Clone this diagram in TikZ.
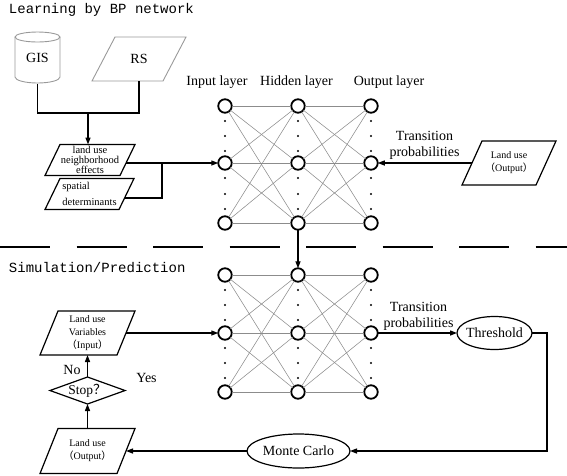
\documentclass[tikz,border=0pt]{standalone}
\usepackage{fontspec}
\setmainfont{Liberation Serif}
\setmonofont{Liberation Mono}
\newfontfamily\cjk{Noto Sans CJK SC}
\usetikzlibrary{shapes.geometric,arrows.meta}
\newcommand\drawpara[3]{\draw[#3] ([xshift=#2pt]#1.north west) -- ([xshift=#2pt]#1.north east) -- ([xshift=-#2pt]#1.south east) -- ([xshift=-#2pt]#1.south west) -- cycle;}
\begin{document}
\begin{tikzpicture}[x=1pt,y=-1pt,
  every node/.style={inner sep=0pt, outer sep=0pt},
  line/.style={line width=1.3pt, black},
  arr/.style={line, -{Triangle[length=7pt,width=5pt]}},
  neuron/.style={circle, draw, line width=1.8pt, minimum size=13.5pt},
  wire/.style={draw=black!45, line width=0.55pt},
  big/.style={font=\fontsize{14}{16}\selectfont},
  small/.style={font=\fontsize{10}{13}\selectfont, align=center},
  mono/.style={font=\ttfamily\fontsize{14}{16}\selectfont},
  boxline/.style={line width=1.2pt, black},
  grayline/.style={line width=0.9pt, draw=black!40},
  oval/.style={ellipse, draw, line width=1.2pt, big},
]
\useasboundingbox (0,0) rectangle (567,475);

% titles
\node[mono, anchor=base west] (t1) at (9,13.5) {Learning by BP network};
\node[mono, anchor=base west] (t2) at (9,272) {Simulation/Prediction};

% separator
\draw[line width=1.2pt, dash pattern=on 50pt off 26.5pt] (0,247) -- (567,247);

% GIS cylinder
\node[big, minimum width=45pt, minimum height=52pt] (gis) at (37.5,57.5) {GIS};
\draw[grayline] (15,37) -- (15,77) arc[start angle=180, end angle=0, x radius=22.5, y radius=6] -- (60,37);
\draw[grayline] (37.5,37) ellipse[x radius=22.5, y radius=5];

% RS
\node[big, minimum width=71pt, minimum height=44pt] (rs) at (139,59) {RS};
\drawpara{rs}{11.5}{grayline}

% input data boxes
\node[font=\fontsize{10.5}{9.5}\selectfont, align=center, minimum width=75pt, minimum height=31pt] (nb) at (90,160) {land use\\neighborhood\\effects};
\drawpara{nb}{7.5}{boxline}
\node[font=\fontsize{10.5}{16}\selectfont, align=left, minimum width=74pt, minimum height=31pt] (sp) at (89.5,194) {spatial\\determinants};
\drawpara{sp}{7.5}{boxline}

% upper land use output
\node[small, minimum width=74pt, minimum height=44pt] (lo) at (509,163) {Land use\\{\cjk （}Output{\cjk ）}};
\drawpara{lo}{10}{boxline}

% layer labels
\node[big] (lin) at (217,82.5) {Input layer};
\node[big] (lhid) at (296.5,82.5) {Hidden layer};
\node[big] (lout) at (389,82.5) {Output layer};

% networks
\foreach \c/\x in {i/225,h/298,o/371}
  \foreach \r/\y in {1/106,2/163,3/223}
    \node[neuron] (\c\r) at (\x,\y) {};
\foreach \c/\x in {I/225,H/298,O/371}
  \foreach \r/\y in {1/275,2/333,3/392}
    \node[neuron] (\c\r) at (\x,\y) {};
\foreach \a/\b in {i/h,h/o,I/H,H/O}
  \foreach \p in {1,2,3}
    \foreach \q in {1,2,3}
      \draw[wire] (\a\p) -- (\b\q);
\foreach \x in {225,298,371}
  \foreach \y in {121,136,151,178,194,209,290,305,320,348,363,378}
    \fill (\x,\y) circle[radius=1.2];

% transition labels
\node[big, align=center, anchor=north] (tp1) at (424.5,131.5) {Transition\\probabilities};
\node[big, align=center, anchor=north] (tp2) at (418.5,302) {Transition\\probabilities};

% lower flow
\node[small, minimum width=77pt, minimum height=44pt] (var) at (87.5,333) {Land use\\Variables\\{\cjk （}Input{\cjk ）}};
\drawpara{var}{9}{boxline}
\node[diamond, draw, line width=1.2pt, aspect=2.8, minimum width=75pt, minimum height=27pt, font=\fontsize{13.5}{15}\selectfont] (stop) at (87.5,390.5) {Stop{\cjk ？}};
\node[big] (no) at (72,370) {No};
\node[big] (yes) at (146.5,378) {Yes};
\node[small, minimum width=77pt, minimum height=45pt] (lo2) at (87.5,451) {Land use\\{\cjk （}Output{\cjk ）}};
\drawpara{lo2}{9}{boxline}
\node[oval, inner xsep=-8pt, minimum width=75pt, minimum height=33pt] (thr) at (494.5,333) {Threshold};
\node[oval, minimum width=103pt, minimum height=34pt] (mc) at (298.5,451) {Monte Carlo};

% connectors upper
\coordinate (j) at (88,113);
\coordinate (k) at (162,163);
\draw[line] (gis.south) |- (j) -| (rs.south);
\draw[arr] (j) -- (j |- nb.north);
\draw[arr] ([shift={(-1.45,3)}]nb.east) -- (i2);
\draw[line] ([shift={(-1.94,4)}]sp.east) -| (k);
\draw[arr] (lo.west) -- (o2);
\draw[arr] (h3) -- (H1);

% connectors lower
\coordinate (c) at (547,451);
\draw[arr] (var.east) -- (I2);
\draw[arr] (O2) -- (thr);
\draw[arr] (thr.east) -| (c) -- (mc.east);
\draw[arr] (mc.west) -- (lo2.east);
\draw[arr] (lo2.north) -- (stop.south);
\draw[arr] (stop.north) -- (var.south);
\end{tikzpicture}
\end{document}
